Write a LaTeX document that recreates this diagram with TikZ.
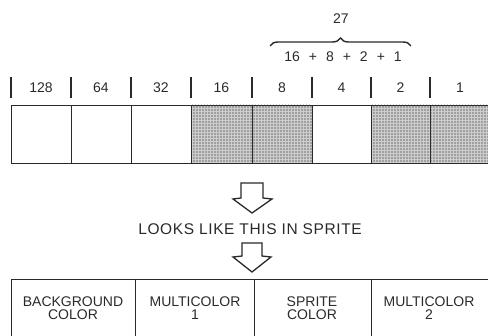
\documentclass[tikz,border=0pt]{standalone}
\usepackage{fontspec}
\setmainfont{Liberation Sans}
\usetikzlibrary{decorations.pathreplacing,patterns}
\definecolor{ink}{HTML}{2A2A2A}
\definecolor{shade}{HTML}{A0A0A0}
\definecolor{dotlight}{HTML}{CDCDCD}
\begin{document}
\begin{tikzpicture}[x=1pt,y=-1pt,
  txt/.style={text=ink,font=\fontsize{14}{13.5}\selectfont,inner sep=0pt,align=center},
  bitcell/.style={draw=ink,line width=0.9pt,minimum height=58pt,inner sep=0pt},
  setcell/.style={bitcell,preaction={fill=shade},pattern=grid,pattern color=dotlight},
  colbox/.style={draw=ink,line width=0.9pt,minimum height=62pt,inner sep=0pt},
  tick/.style={draw=ink,line width=1.3pt},
  hollowarrow/.style={draw=ink,line width=1.3pt,line join=miter,fill=white}
]
\useasboundingbox (0,0) rectangle (488,336);
% header ticks
\foreach \x/\n in {11/t0,71/t1,131/t2,191/t3,252/t4,312/t5,371/t6,430/t7}{
  \coordinate (\n a) at (\x,77); \coordinate (\n b) at (\x,98);
  \draw[tick] (\n a) -- (\n b);
}
% header labels
\node[txt] (l128) at (41,88) {128};
\node[txt] (l64) at (101,88) {64};
\node[txt] (l32) at (161,88) {32};
\node[txt] (l16) at (221.5,88) {16};
\node[txt] (l8) at (282,88) {8};
\node[txt] (l4) at (341.5,88) {4};
\node[txt] (l2) at (400.5,88) {2};
\node[txt] (l1) at (460,88) {1};
% bit cells
\node[bitcell,minimum width=60pt] (c128) at (41,134) {};
\node[bitcell,minimum width=60pt] (c64) at (101,134) {};
\node[bitcell,minimum width=60pt] (c32) at (161,134) {};
\node[setcell,minimum width=61pt] (c16) at (221.5,134) {};
\node[setcell,minimum width=60pt] (c8) at (282,134) {};
\node[bitcell,minimum width=59pt] (c4) at (341.5,134) {};
\node[setcell,minimum width=59pt] (c2) at (400.5,134) {};
\node[setcell,minimum width=60pt] (c1) at (460,134) {};
% brace
\coordinate (brl) at (270,46);
\coordinate (brr) at (411,46);
\draw[ink,line width=1.4pt,decorate,decoration={brace,amplitude=8pt}] (brl) -- (brr);
\node[txt] (sum) at (341,19) {27};
\node[txt] (parts) at (343,57) {16\hspace{9pt}+\hspace{9pt}8\hspace{9pt}+\hspace{9pt}2\hspace{9pt}+\hspace{9pt}1};
% first arrow
\draw[hollowarrow] (241,183) -- (241,198) -- (233,199) -- (252,213) -- (272,199) -- (263,198) -- (263,183) -- cycle;
\node[txt,font=\fontsize{15.5}{15}\selectfont\addfontfeature{LetterSpace=4}] (looks) at (250,229) {LOOKS LIKE THIS IN SPRITE};
% second arrow
\draw[hollowarrow] (242,243) -- (242,256) -- (233,257) -- (252,272) -- (271,257) -- (262,256) -- (262,243) -- cycle;
% colour boxes
\node[colbox,minimum width=124pt] (bg) at (73,310) {};
\node[colbox,minimum width=119pt] (mc1) at (194.5,310) {};
\node[colbox,minimum width=117pt] (spr) at (312.5,310) {};
\node[colbox,minimum width=120pt] (mc2) at (431,310) {};
\node[txt] (bgt) at (73,308) {BACKGROUND\\COLOR};
\node[txt] (mc1t) at (195,308) {MULTICOLOR\\1};
\node[txt] (sprt) at (312,308) {SPRITE\\COLOR};
\node[txt] (mc2t) at (429,308) {MULTICOLOR\\2};
\end{tikzpicture}
\end{document}
